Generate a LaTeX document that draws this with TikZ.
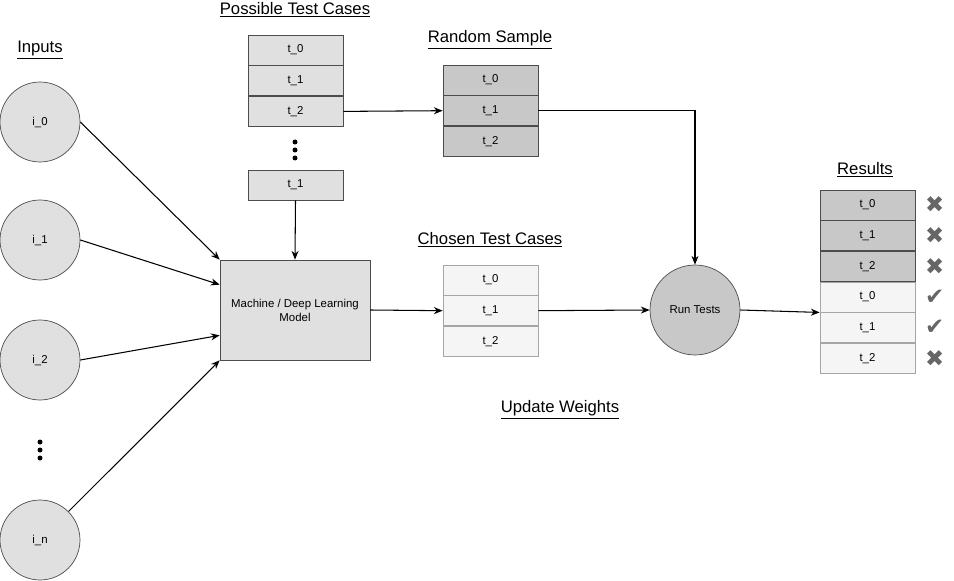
\documentclass[tikz,border=0pt]{standalone}
\usepackage{fontspec}
\setmainfont{Liberation Sans}
\newfontfamily\symfont{DejaVu Sans}
\definecolor{cellgray}{RGB}{224,224,224}
\definecolor{darkcell}{RGB}{200,200,200}
\definecolor{lightcell}{RGB}{245,245,245}
\definecolor{markgray}{RGB}{102,102,102}
\usetikzlibrary{positioning,arrows.meta}

\tikzset{
    cell/.style={draw=black!70, fill=cellgray, minimum width=1.9cm, minimum height=0.6cm, inner sep=0pt, font=\fontsize{6.5}{7}\selectfont},
    darkc/.style={cell, fill=darkcell},
    lightc/.style={cell, fill=lightcell, draw=black!35},
    inputc/.style={circle, draw=black!70, fill=cellgray, minimum size=1.6cm, font=\fontsize{6.5}{7}\selectfont},
    title/.style={font=\fontsize{9.5}{11}\selectfont},
    flow/.style={-{Stealth[length=5pt,width=4pt]}, semithick},
    tick/.style={text=markgray, font=\symfont\fontsize{13}{13}\selectfont}
}

\begin{document}
\begin{tikzpicture}[x=0.02cm, y=-0.02cm]
    \useasboundingbox (0,0) rectangle (954,581);

    % Eingaben
    \node[title] (inputs) at (40,50) {\underline{Inputs}};
    \foreach \name/\y/\txt in {i0/122/i\_0, i1/240/i\_1, i2/360/i\_2, in/540/i\_n} {
        \node[inputc] (\name) at (40,\y) {\txt};
    }
    \foreach \d in {-8,0,8}
        \fill (40,450+\d) circle (2.5);

    % Mögliche Testfälle
    \node[title] (possT) at (295,10) {\underline{Possible Test Cases}};
    \node[cell] (p0) at (295.5,50) {t\_0};
    \node[cell, below=0pt of p0] (p1) {t\_1};
    \node[cell, below=0pt of p1] (p2) {t\_2};
    \foreach \d in {-8,0,8}
        \fill (295,150+\d) circle (2.5);
    \node[cell] (pn) at (295.5,185) {t\_1};

    % Stichprobe
    \node[title] (randT) at (490,40) {\underline{Random Sample}};
    \node[darkc] (r0) at (490.5,80) {t\_0};
    \node[darkc, below=0pt of r0] (r1) {t\_1};
    \node[darkc, below=0pt of r1] (r2) {t\_2};

    % Modell
    \node[draw=black!70, fill=cellgray, minimum width=3cm, minimum height=2cm, align=center,
          font=\fontsize{6.5}{8}\selectfont] (model) at (295,310) {Machine / Deep Learning\\Model};

    % Gewählte Testfälle
    \node[title] (chosT) at (490,240) {\underline{Chosen Test Cases}};
    \node[lightc] (c0) at (490.5,280) {t\_0};
    \node[lightc, below=0pt of c0] (c1) {t\_1};
    \node[lightc, below=0pt of c1] (c2) {t\_2};

    % Tests
    \node[circle, draw=black!70, fill=darkcell, minimum size=1.8cm, font=\fontsize{6.5}{7}\selectfont] (run) at (695,310) {Run Tests};
    \node[title] (upd) at (560,410) {\underline{Update Weights}};

    % Ergebnisse
    \node[title] (resT) at (865,170) {\underline{Results}};
    \node[darkc] (s0) at (867.5,205) {t\_0};
    \node[darkc, below=0pt of s0] (s1) {t\_1};
    \node[darkc, below=0pt of s1] (s2) {t\_2};
    \node[lightc, below=0pt of s2] (s3) {t\_0};
    \node[lightc, below=0pt of s3] (s4) {t\_1};
    \node[lightc, below=0pt of s4] (s5) {t\_2};
    \foreach \s/\m in {s0/✖, s1/✖, s2/✖, s3/✔, s4/✔, s5/✖}
        \node[tick, right=2pt of \s] {\m};

    % Pfeile
    \draw[flow] (i0.east) -- (model.north west);
    \draw[flow] (i1.east) -- ([yshift=-0.5cm]model.north west);
    \draw[flow] (i2.east) -- ([yshift=0.5cm]model.south west);
    \draw[flow] (in.north east) -- (model.south west);
    \draw[flow] (pn.south) -- (model.north);
    \draw[flow] (model.east) -- (c1.west);
    \draw[flow] (p2.east) -- (r1.west);
    \draw[flow] (r1.east) -| (run.north);
    \draw[flow] (c1.east) -- (run.west);
    \draw[flow] (run.east) -- (s3.south west);
\end{tikzpicture}
\end{document}
